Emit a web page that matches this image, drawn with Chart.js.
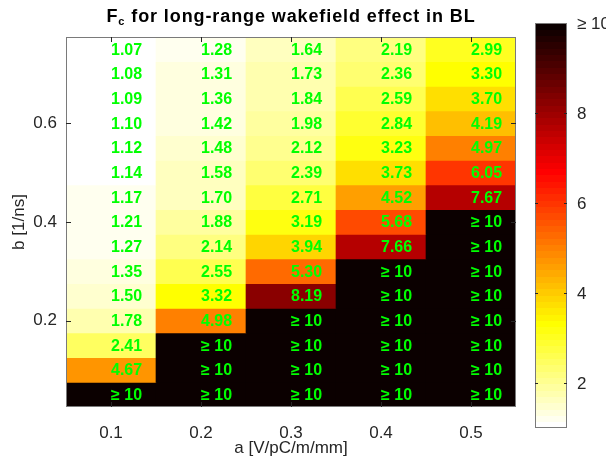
<!DOCTYPE html>
<html>
<head>
<meta charset="utf-8">
<script src="https://cdn.jsdelivr.net/npm/chart.js@4.4.1/dist/chart.umd.min.js"></script>
<style>
  html, body { margin: 0; padding: 0; background: #fff; }
</style>
</head>
<body>
<canvas id="fcChart" width="606" height="459"></canvas>
<script>
// a values along the x axis
const aLabels = ['0.1', '0.2', '0.3', '0.4', '0.5'];
// b values, one per row, top to bottom
const bValues = [0.75, 0.70, 0.65, 0.60, 0.55, 0.50, 0.45, 0.40, 0.35, 0.30, 0.25, 0.20, 0.15, 0.10, 0.05];
// Fc for each a column, top to bottom (10 means "≥ 10")
const fcA01 = [1.07, 1.08, 1.09, 1.10, 1.12, 1.14, 1.17, 1.21, 1.27, 1.35, 1.50, 1.78, 2.41, 4.67, 10];
const fcA02 = [1.28, 1.31, 1.36, 1.42, 1.48, 1.58, 1.70, 1.88, 2.14, 2.55, 3.32, 4.98, 10, 10, 10];
const fcA03 = [1.64, 1.73, 1.84, 1.98, 2.12, 2.39, 2.71, 3.19, 3.94, 5.30, 8.19, 10, 10, 10, 10];
const fcA04 = [2.19, 2.36, 2.59, 2.84, 3.23, 3.73, 4.52, 5.68, 7.66, 10, 10, 10, 10, 10, 10];
const fcA05 = [2.99, 3.30, 3.70, 4.19, 4.97, 6.05, 7.67, 10, 10, 10, 10, 10, 10, 10, 10];
const yTicks = [0.2, 0.4, 0.6];
const cbarTicks = [2, 4, 6, 8, 10];

const FONT = '"Liberation Sans", Arial, Helvetica, sans-serif';
const AXIS_COLOR = '#262626';
const C_MIN = 1, C_MAX = 10;

// flipped matlab "hot" colormap, 64 levels
function hotReversed(v) {
    const m = 64, n = 24;
    let k = Math.floor((Math.min(v, C_MAX) - C_MIN) / (C_MAX - C_MIN) * m);
    k = Math.max(0, Math.min(m - 1, k));
    const i = m - k;
    const r = i <= n ? i / n : 1;
    const g = i <= n ? 0 : (i <= 2 * n ? (i - n) / n : 1);
    const b = i <= 2 * n ? 0 : (i - 2 * n) / (m - 2 * n);
    return `rgb(${Math.round(r * 255)}, ${Math.round(g * 255)}, ${Math.round(b * 255)})`;
}

const columns = [fcA01, fcA02, fcA03, fcA04, fcA05];
const halfStep = 0.025;

// one floating-bar dataset per b row
const datasets = bValues.map((b, row) => ({
    label: 'b = ' + b.toFixed(2),
    data: aLabels.map(() => [b - halfStep, b + halfStep]),
    fcValues: columns.map(col => col[row]),
    backgroundColor: columns.map(col => hotReversed(col[row])),
    borderWidth: 0,
    grouped: false,
    categoryPercentage: 1,
    barPercentage: 1
}));

// cell numbers, axes box, ticks, title and colorbar
const heatmapExtras = {
    id: 'heatmapExtras',
    afterDatasetsDraw(chart) {
        const ctx = chart.ctx;
        const { left, right, top, bottom } = chart.chartArea;
        const xs = chart.scales.x, ys = chart.scales.y;
        ctx.save();

        // numbers in the cells
        ctx.font = 'bold 16px ' + FONT;
        ctx.fillStyle = '#00ff00';
        ctx.textAlign = 'left';
        ctx.textBaseline = 'middle';
        chart.data.datasets.forEach((ds, di) => {
            chart.getDatasetMeta(di).data.forEach((bar, i) => {
                const v = ds.fcValues[i];
                const txt = v >= 10 ? '\u2265 10' : v.toFixed(2);
                ctx.fillText(txt, bar.x, (bar.y + bar.base) / 2 + 1);
            });
        });

        // box
        ctx.strokeStyle = '#7a7a7a';
        ctx.lineWidth = 1;
        ctx.strokeRect(left + 0.5, top + 0.5, right - left - 1, bottom - top - 1);

        // inward ticks
        ctx.strokeStyle = AXIS_COLOR;
        ctx.beginPath();
        aLabels.forEach((lab, i) => {
            const px = Math.round(xs.getPixelForValue(i)) + 0.5;
            ctx.moveTo(px, bottom); ctx.lineTo(px, bottom - 5);
            ctx.moveTo(px, top); ctx.lineTo(px, top + 5);
        });
        yTicks.forEach(t => {
            const py = Math.round(ys.getPixelForValue(t)) + 0.5;
            ctx.moveTo(left, py); ctx.lineTo(left + 5, py);
            ctx.moveTo(right, py); ctx.lineTo(right - 5, py);
        });
        ctx.stroke();

        // title with subscript c
        const cx = (left + right) / 2, ty = 22;
        const bigFont = 'bold 18px ' + FONT, subFont = 'bold 11px ' + FONT;
        const rest = ' for long-range wakefield effect in BL';
        ctx.fillStyle = '#000';
        ctx.textBaseline = 'alphabetic';
        ctx.letterSpacing = '0.9px';
        ctx.font = bigFont;
        const wF = ctx.measureText('F').width, wRest = ctx.measureText(rest).width;
        ctx.font = subFont;
        const wC = ctx.measureText('c').width;
        let tx = cx - (wF + wC + wRest) / 2;
        ctx.font = bigFont;
        ctx.fillText('F', tx, ty);
        ctx.font = subFont;
        ctx.fillText('c', tx + wF, ty + 3);
        ctx.font = bigFont;
        ctx.fillText(rest, tx + wF + wC, ty);
        ctx.letterSpacing = '0px';

        // colorbar
        const cbL = 535, cbR = 567, cbT = 23, cbB = 428;
        const levels = 64;
        for (let k = 0; k < levels; k++) {
            const v = C_MIN + (k + 0.5) / levels * (C_MAX - C_MIN);
            const y1 = cbB - k / levels * (cbB - cbT);
            const y0 = cbB - (k + 1) / levels * (cbB - cbT);
            ctx.fillStyle = hotReversed(v);
            ctx.fillRect(cbL, Math.floor(y0), cbR - cbL, Math.ceil(y1) - Math.floor(y0));
        }
        ctx.strokeStyle = '#7a7a7a';
        ctx.strokeRect(cbL + 0.5, cbT + 0.5, cbR - cbL - 1, cbB - cbT - 1);
        ctx.strokeStyle = AXIS_COLOR;
        ctx.fillStyle = AXIS_COLOR;
        ctx.font = '17px ' + FONT;
        ctx.textAlign = 'left';
        ctx.textBaseline = 'middle';
        cbarTicks.forEach(t => {
            const py = Math.round(cbB - (t - C_MIN) / (C_MAX - C_MIN) * (cbB - cbT)) + 0.5;
            if (t < C_MAX) {
                ctx.beginPath();
                ctx.moveTo(cbL, py); ctx.lineTo(cbL + 3, py);
                ctx.moveTo(cbR, py); ctx.lineTo(cbR - 3, py);
                ctx.stroke();
            }
            ctx.fillText(t >= 10 ? '\u2265 10' : String(t), 577, py + 1);
        });

        ctx.restore();
    }
};

const ctx = document.getElementById('fcChart').getContext('2d');
const fcChart = new Chart(ctx, {
    type: 'bar',
    data: { labels: aLabels, datasets: datasets },
    options: {
        responsive: false,
        devicePixelRatio: 1,
        animation: false,
        layout: { padding: { top: 37, right: 90, left: 0, bottom: 0 } },
        plugins: {
            legend: { display: false },
            tooltip: { enabled: false },
            title: { display: false }
        },
        scales: {
            x: {
                type: 'category',
                offset: true,
                grid: { display: false, drawTicks: false },
                border: { display: false },
                ticks: { color: AXIS_COLOR, font: { size: 17, family: FONT }, padding: 16, maxRotation: 0 },
                title: {
                    display: true, text: 'a [V/pC/m/mm]', color: AXIS_COLOR,
                    font: { size: 17, family: FONT }, padding: { top: 0, bottom: 0 }
                },
                afterFit(scale) { scale.height = 52; }
            },
            y: {
                type: 'linear',
                min: 0.025,
                max: 0.775,
                grid: { display: false, drawTicks: false },
                border: { display: false },
                afterBuildTicks(scale) { scale.ticks = yTicks.map(v => ({ value: v })); },
                ticks: {
                    color: AXIS_COLOR, font: { size: 17, family: FONT }, padding: 9,
                    callback: v => v.toFixed(1)
                },
                title: {
                    display: true, text: 'b [1/ns]', color: AXIS_COLOR,
                    font: { size: 17, family: FONT }, padding: { top: 9, bottom: 0 }
                },
                afterFit(scale) { scale.width = 66; }
            }
        }
    },
    plugins: [heatmapExtras]
});
</script>
</body>
</html>
